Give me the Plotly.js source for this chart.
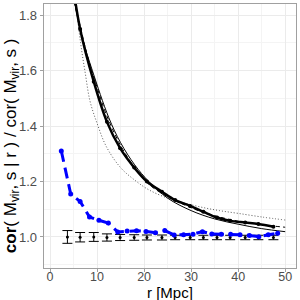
<!DOCTYPE html>
<html><head><meta charset="utf-8">
<script src="https://cdn.plot.ly/plotly-3.0.1.min.js"></script>
<style>html,body{margin:0;padding:0;background:#fff}#c{width:300px;height:300px}</style>
</head><body><div id="c"></div>
<script>
// measured data (thick line with points) and error-bar reference
const rData = [3.7, 6.4, 9.3, 12.1, 14.9, 17.9, 20.6, 23.8, 26.6, 29.8, 32.6, 35.5, 38.3, 41.5, 44.3, 47.5];
const vData = [2.05, 1.75, 1.56, 1.415, 1.32, 1.25, 1.20, 1.163, 1.133, 1.112, 1.091, 1.07, 1.058, 1.052, 1.047, 1.037];
const vErrCenter = [1.0, 0.999, 1.0, 0.998, 0.998, 0.998, 0.998, 0.998, 0.998, 0.998, 0.998, 0.998, 0.998, 0.998, 0.998, 0.998];
const vErr = [0.023, 0.017, 0.016, 0.013, 0.011, 0.010, 0.009, 0.009, 0.008, 0.008, 0.008, 0.008, 0.008, 0.008, 0.008, 0.008];
// blue dashed series
const rBlue = [2.4, 4.4, 6.4, 8.4, 10.4, 12.4, 14.4, 16.4, 18.4, 20.4, 22.4, 24.4, 26.4, 28.4, 30.4, 32.4, 34.4, 36.4, 38.4, 40.4, 42.4, 44.4, 46.4, 48.4];
const vBlue = [1.31, 1.155, 1.128, 1.072, 1.06, 1.05, 1.018, 1.021, 1.022, 1.02, 1.015, 1.023, 1.007, 1.008, 1.01, 1.019, 1.011, 1.01, 1.01, 1.008, 1.005, 1.001, 1.008, 1.013];
// model curves
const rThin = [4.8, 5.3, 7, 9, 12.5, 15, 18, 21, 25, 30, 35, 40, 45, 50];
const vThin = [1.95, 1.843, 1.71, 1.60, 1.43, 1.34, 1.26, 1.20, 1.14, 1.095, 1.065, 1.046, 1.03, 1.019];
const rDash = [4.7, 5.2, 6, 8, 10, 12, 15, 18, 21, 24, 28, 32, 36, 40, 45, 50];
const vDash = [1.95, 1.843, 1.79, 1.65, 1.54, 1.44, 1.33, 1.25, 1.19, 1.155, 1.12, 1.092, 1.072, 1.057, 1.044, 1.035];
const rDot = [5.0, 5.5, 6.5, 7.5, 8.5, 10, 12, 15, 18, 21, 25, 28, 32, 36, 40, 45, 50];
const vDot = [1.95, 1.845, 1.70, 1.59, 1.49, 1.41, 1.325, 1.25, 1.205, 1.17, 1.14, 1.125, 1.108, 1.095, 1.085, 1.072, 1.061];
const xTicks = [0, 10, 20, 30, 40, 50];
const yTicks = [1.0, 1.2, 1.4, 1.6, 1.8];
const xTitle = 'r [Mpc]';
const yTitle = '<b>cor</b>( M<sub>vir</sub>, s | r ) / cor( M<sub>vir</sub>, s )';

const traces = [
  {x: rDot, y: vDot, mode: 'lines', line: {color: '#555', width: 1, dash: '1px,2px', shape: 'spline'}, hoverinfo: 'skip'},
  {x: rThin, y: vThin, mode: 'lines', line: {color: '#000', width: 1, shape: 'spline'}, hoverinfo: 'skip'},
  {x: rDash, y: vDash, mode: 'lines', line: {color: '#000', width: 1, dash: '4px,3px', shape: 'spline'}, hoverinfo: 'skip'},
  {x: rData, y: vData, mode: 'lines+markers', line: {color: '#000', width: 2.5, shape: 'spline'}, marker: {color: '#000', size: 4}},
  {x: rData, y: vErrCenter, mode: 'markers', marker: {color: '#000', size: 3},
   error_y: {type: 'data', array: vErr, visible: true, color: '#000', thickness: 1, width: 5}},
  {x: rBlue, y: vBlue, mode: 'lines+markers', line: {color: '#0000ff', width: 3, dash: '11px,6px'}, marker: {color: '#0000ff', size: 5}}
];

const grid = '#ebebeb';
const layout = {
  width: 300, height: 300,
  margin: {l: 44, r: 4, t: 4, b: 32},
  paper_bgcolor: '#fff', plot_bgcolor: '#fff',
  showlegend: false,
  font: {family: 'Liberation Sans, Arial, sans-serif', color: '#4d4d4d', size: 13},
  xaxis: {
    range: [-1.28, 52.3], tickvals: xTicks, ticktext: xTicks.map(String),
    showgrid: true, gridcolor: grid, gridwidth: 1, automargin: false,
    minor: {dtick: 5, tick0: 0, showgrid: true, gridcolor: '#f4f4f4', gridwidth: 1},
    zeroline: false, showline: true, mirror: true, linecolor: '#a0a0a0', linewidth: 1.3,
    ticks: 'outside', ticklen: 3, tickcolor: '#a0a0a0', ticklabelstandoff: -6,
    tickfont: {size: 12.5, color: '#4d4d4d'}
  },
  yaxis: {
    range: [0.888, 1.84], tickvals: yTicks, ticktext: yTicks.map(v => v.toFixed(1)),
    showgrid: true, gridcolor: grid, gridwidth: 1, automargin: false,
    minor: {dtick: 0.1, tick0: 0.9, showgrid: true, gridcolor: '#f4f4f4', gridwidth: 1},
    zeroline: false, showline: true, mirror: true, linecolor: '#a0a0a0', linewidth: 1.3,
    ticks: 'outside', ticklen: 3, tickcolor: '#a0a0a0',
    tickfont: {size: 13, color: '#4d4d4d'}
  },
  annotations: [
    {text: xTitle, xref: 'paper', yref: 'paper', x: 0.5, y: -0.093, yanchor: 'middle', xanchor: 'center',
     showarrow: false, font: {size: 15, color: '#000'}, borderpad: 0},
    {text: yTitle, xref: 'paper', yref: 'paper', x: -0.175, y: 0.465, xanchor: 'left', yanchor: 'middle',
     textangle: -90, showarrow: false, font: {size: 17, color: '#000'}, borderpad: 0}
  ]
};
Plotly.newPlot('c', traces, layout, {staticPlot: true, displayModeBar: false});
</script></body></html>
